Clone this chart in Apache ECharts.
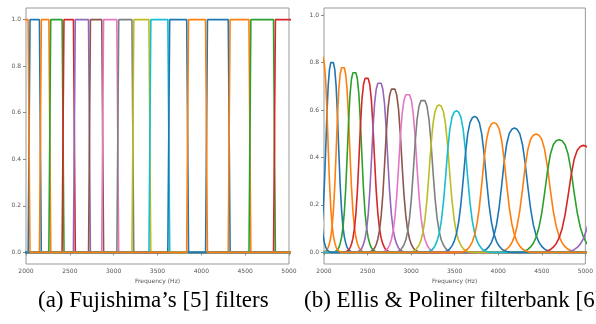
<!DOCTYPE html>
<html>
<head>
<meta charset="utf-8">
<script src="https://cdn.jsdelivr.net/npm/echarts@6/dist/echarts.min.js"></script>
<style>
  html, body { margin: 0; padding: 0; background: #fff; }
  #chart { width: 596px; height: 324px; }
</style>
</head>
<body>
<div id="chart"></div>
<script>
// matplotlib tab10 cycle, one colour per chroma line
const palette = ["#1f77b4", "#ff7f0e", "#2ca02c", "#d62728", "#9467bd",
                 "#8c564b", "#e377c2", "#7f7f7f", "#bcbd22", "#17becf"];
const xTicks = [2000, 2500, 3000, 3500, 4000, 4500, 5000];
const yTicks = [0, 0.2, 0.4, 0.6, 0.8, 1.0];

// (a) Fujishima: each band is 1 between lo and hi (Hz), owned by one chroma line
const fujiLine = [11, 0, 1, 2, 3, 4, 5, 6, 7, 8, 9, 10, 11, 0, 1, 2, 3];
const fujiLo = [1938, 2046, 2175, 2282, 2433, 2562, 2735, 2885, 3058, 3230,
                3424, 3639, 3854, 4070, 4328, 4565, 4845];
const fujiHi = [2024, 2153, 2261, 2412, 2541, 2713, 2864, 3036, 3208, 3402,
                3618, 3833, 4048, 4307, 4543, 4823, 5103];
const rampHz = 21.5; // one fft bin

// (b) Ellis & Poliner: one bump per note, centre (Hz) and peak height
const bumpLine = [10, 11, 0, 1, 2, 3, 4, 5, 6, 7, 8, 9, 10, 11, 0, 1, 2, 3, 4];
const bumpCenter = [1865, 1976, 2093, 2217, 2349, 2489, 2637, 2794, 2960, 3136,
                    3322, 3520, 3729, 3951, 4186, 4435, 4699, 4978, 5274];
const bumpPeak = [0.85, 0.83, 0.808, 0.786, 0.765, 0.741, 0.72, 0.695, 0.671, 0.646,
                  0.622, 0.597, 0.573, 0.547, 0.524, 0.499, 0.475, 0.451, 0.43];
// bump profile: offset from centre in semitones, height relative to peak
const bumpSteps = [0, 0.125, 0.25, 0.375, 0.5, 0.625, 0.75, 0.875, 1,
                   1.125, 1.25, 1.375, 1.5, 1.625, 1.75, 1.875, 2];
const bumpShape = [1, 0.99, 0.955, 0.87, 0.72, 0.528, 0.351, 0.221, 0.135,
                   0.081, 0.048, 0.026, 0.013, 0.006, 0.002, 0.001, 0];

function fujiSeries(line) {
  const pts = [[1800, 0]];
  fujiLine.forEach((l, i) => {
    if (l !== line) return;
    pts.push([fujiLo[i] - rampHz, 0], [fujiLo[i], 1], [fujiHi[i], 1], [fujiHi[i] + rampHz, 0]);
  });
  pts.push([5300, 0]);
  return pts;
}

function bumpSeries(line) {
  const pts = [[1700, 0]];
  bumpLine.forEach((l, i) => {
    if (l !== line) return;
    for (let k = bumpSteps.length - 1; k > 0; k--) {
      pts.push([bumpCenter[i] * Math.pow(2, -bumpSteps[k] / 12), bumpPeak[i] * bumpShape[k]]);
    }
    for (let k = 0; k < bumpSteps.length; k++) {
      pts.push([bumpCenter[i] * Math.pow(2, bumpSteps[k] / 12), bumpPeak[i] * bumpShape[k]]);
    }
  });
  pts.push([5600, 0]);
  return pts;
}

const labelFont = { fontSize: 6, color: "#555", fontFamily: "DejaVu Sans" };

function xAxis(idx) {
  return {
    type: "value", gridIndex: idx, min: 2000, max: 5000, interval: 500,
    axisLine: { show: false },
    splitLine: { show: false },
    axisTick: { length: 3, lineStyle: { color: "#888" }, customValues: xTicks },
    axisLabel: Object.assign({
      margin: 4, customValues: xTicks,
      formatter: (v) => String(v),
    }, labelFont),
    name: "Frequency (Hz)", nameLocation: "middle", nameGap: 14,
    nameTextStyle: labelFont,
  };
}

function yAxis(idx, min, max) {
  return {
    type: "value", gridIndex: idx, min: min, max: max,
    axisLine: { show: false },
    splitLine: { show: false },
    axisTick: { length: 3, lineStyle: { color: "#888" }, customValues: yTicks },
    axisLabel: Object.assign({
      margin: 5, customValues: yTicks,
      formatter: (v) => v.toFixed(1),
    }, labelFont),
  };
}

const series = [];
for (let l = 0; l < 12; l++) {
  series.push({
    type: "line", xAxisIndex: 0, yAxisIndex: 0, data: fujiSeries(l),
    symbol: "none", color: palette[l % 10], lineStyle: { width: 1.6 },
  });
}
for (let l = 0; l < 12; l++) {
  series.push({
    type: "line", xAxisIndex: 1, yAxisIndex: 1, data: bumpSeries(l),
    symbol: "none", color: palette[l % 10], lineStyle: { width: 1.6 },
  });
}

const chart = echarts.init(document.getElementById("chart"));
chart.setOption({
  animation: false,
  grid: [
    { left: 26, right: 307, top: 8, bottom: 60, show: true, borderColor: "#999", borderWidth: 1 },
    { left: 324, right: 9, top: 8, bottom: 60, show: true, borderColor: "#999", borderWidth: 1 },
  ],
  xAxis: [xAxis(0), xAxis(1)],
  yAxis: [yAxis(0, -0.05, 1.05), yAxis(1, -0.049, 1.03)],
  series: series,
  graphic: [
    { type: "text", left: 38, top: 289,
      style: { text: "(a) Fujishima’s [5] filters", font: '23px "Liberation Serif"', fill: "#000" } },
    { type: "text", left: 304, top: 289,
      style: { text: "(b) Ellis & Poliner filterbank [6]", font: '23px "Liberation Serif"', fill: "#000" } },
  ],
});
</script>
</body>
</html>
